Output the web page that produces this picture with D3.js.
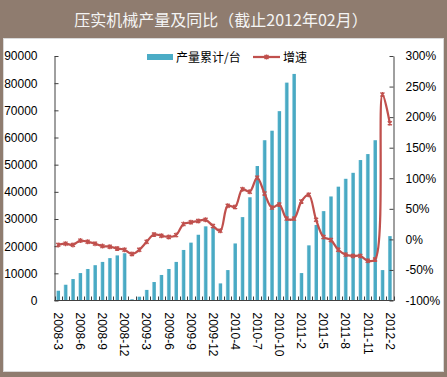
<!DOCTYPE html>
<html><head><meta charset="utf-8">
<script src="https://cdn.jsdelivr.net/npm/d3@7"></script>
<style>
html,body{margin:0;padding:0;background:#fff;}
svg{display:block;}
</style></head>
<body>
<svg id="chart" width="447" height="377"></svg>
<script>
const categories = ["2008-3","2008-4","2008-5","2008-6","2008-7","2008-8","2008-9","2008-10","2008-11","2008-12",
"2009-1","2009-2","2009-3","2009-4","2009-5","2009-6","2009-7","2009-8","2009-9","2009-10","2009-11","2009-12",
"2010-2","2010-3","2010-4","2010-5","2010-6","2010-7","2010-8","2010-9","2010-10","2010-11","2010-12",
"2011-2","2011-3","2011-4","2011-5","2011-6","2011-7","2011-8","2011-9","2011-10","2011-11","2011-12",
"2012-1","2012-2"];
const production = [3600,5800,7900,10100,11600,13000,14200,15600,16600,17400,
450,1400,3900,6800,9400,11600,14200,18600,21300,24200,27300,26800,
6300,11200,21000,30700,38000,49500,59000,62500,69700,80200,83400,
10100,20300,27800,32900,38300,41900,44800,47000,51700,53900,59000,
11200,23700];
const growth = [-9,-7,-9,-2,-4,-7,-11,-12,-15,-17,
-24,-17,-4,8,6,4,7,25,28,30,32,22,
14,55,53,82,78,101,75,52,57,34,34,
62,73,32,4,-1,-17,-25,-27,-27,-35,-33,
237,190];
const labeledCategories = ["2008-3","2008-6","2008-9","2008-12","2009-3","2009-6","2009-9","2009-12","2010-4","2010-7","2010-10","2011-2","2011-5","2011-8","2011-11","2012-2"];
const leftTicks = [0,10000,20000,30000,40000,50000,60000,70000,80000,90000];
const rightTicks = [-100,-50,0,50,100,150,200,250,300];
const titleText = "压实机械产量及同比（截止2012年02月）";
const seriesNames = ["产量累计/台","增速"];

const svg = d3.select("#chart");
const W = 447, H = 377;
const brown = "#8f7c6f";
const barColor = "#4bacc6";
const lineColor = "#c0504d";
const numFont = "'Liberation Sans', Arial, sans-serif";
const cjkFont = "'Noto Sans CJK SC', 'Liberation Sans', sans-serif";

// frame
svg.append("rect").attr("x",0).attr("y",0).attr("width",W).attr("height",H).attr("fill",brown);
svg.append("rect").attr("x",3.5).attr("y",38.5).attr("width",440).attr("height",333)
  .attr("fill","#fff").attr("stroke","#d9d9d9").attr("stroke-width",1);
svg.append("text").attr("x",221).attr("y",26).attr("text-anchor","middle")
  .attr("font-family",cjkFont).attr("font-size",16).attr("fill","#f4f4f4").text(titleText);

const x0 = 54.5, x1 = 393.5, yTop = 56, yBot = 300.5;
const x = d3.scaleBand().domain(categories).range([x0, x1]).paddingInner(0.5).paddingOuter(0.25);
const xb = d3.scaleBand().domain(categories).range([x0, x1]);
const yL = d3.scaleLinear().domain([0,90000]).range([yBot, yTop]);
const yR = d3.scaleLinear().domain([-100,300]).range([yBot, yTop]);

// gradient for bars
const defs = svg.append("defs");
const gr = defs.append("linearGradient").attr("id","barg").attr("x1","0").attr("x2","1").attr("y1","0").attr("y2","0");
gr.append("stop").attr("offset","0").attr("stop-color","#9fd3e3");
gr.append("stop").attr("offset","0.3").attr("stop-color",barColor);
gr.append("stop").attr("offset","1").attr("stop-color","#46a6c0");

// bars
svg.append("g").selectAll("rect").data(categories).join("rect")
  .attr("x", d => x(d))
  .attr("width", x.bandwidth())
  .attr("y", (d,i) => yL(production[i]))
  .attr("height", (d,i) => Math.max(1, yBot - yL(production[i])))
  .attr("fill","url(#barg)");

// left axis
const axL = d3.axisLeft(yL).tickValues(leftTicks).tickSizeInner(-4).tickSizeOuter(0).tickPadding(17).tickFormat(d3.format("d"));
const gL = svg.append("g").attr("transform",`translate(${x0},0)`).call(axL);
gL.select(".domain").attr("stroke","#404040");
gL.selectAll(".tick line").attr("stroke","#404040");
gL.selectAll("text").attr("font-family",numFont).attr("font-size",12).attr("fill","#000");

// right axis
const axR = d3.axisRight(yR).tickValues(rightTicks).tickSizeInner(-4).tickSizeOuter(0).tickPadding(12).tickFormat(d => d + "%");
const gR = svg.append("g").attr("transform",`translate(${x1},0)`).call(axR);
gR.select(".domain").attr("stroke","#404040");
gR.selectAll(".tick line").attr("stroke","#404040");
gR.selectAll("text").attr("font-family",numFont).attr("font-size",12).attr("fill","#000");

// bottom axis
svg.append("line").attr("x1",x0).attr("x2",x1).attr("y1",yBot).attr("y2",yBot).attr("stroke","#404040");
const bounds = categories.map(c => xb(c)).concat([x1]);
svg.append("g").selectAll("line").data(bounds).join("line")
  .attr("x1", d => Math.round(d)+0.5).attr("x2", d => Math.round(d)+0.5)
  .attr("y1", yBot).attr("y2", yBot-4).attr("stroke","#404040");
svg.append("g").selectAll("text").data(labeledCategories).join("text")
  .attr("transform", d => `translate(${xb(d)+xb.bandwidth()/2},${yBot+12}) rotate(90)`)
  .attr("dy","0.35em")
  .attr("font-family",numFont).attr("font-size",12).attr("fill","#000")
  .text(d => d);

// line
const pts = categories.map((c,i) => [xb(c)+xb.bandwidth()/2, yR(growth[i])]);
svg.append("path").attr("d", d3.line().curve(d3.curveCatmullRom.alpha(0.5))(pts))
  .attr("fill","none").attr("stroke",lineColor).attr("stroke-width",2.25);
const mk = "M-2,-2L2,2M-2,2L2,-2M0,-2.5L0,2.5";
svg.append("g").selectAll("path").data(pts).join("path")
  .attr("transform", d => `translate(${d[0]},${d[1]})`)
  .attr("d", mk).attr("stroke",lineColor).attr("stroke-width",1.3).attr("fill","none");

// legend
svg.append("rect").attr("x",147).attr("y",54).attr("width",26).attr("height",6).attr("fill",barColor);
svg.append("text").attr("x",176).attr("y",61.5).attr("font-family",cjkFont).attr("font-size",12).attr("fill","#000").text(seriesNames[0]);
svg.append("line").attr("x1",253).attr("x2",280).attr("y1",57).attr("y2",57).attr("stroke",lineColor).attr("stroke-width",2.25);
svg.append("path").attr("transform","translate(266.5,57)").attr("d",mk).attr("stroke",lineColor).attr("stroke-width",1.3);
svg.append("text").attr("x",283).attr("y",61.5).attr("font-family",cjkFont).attr("font-size",12).attr("fill","#000").text(seriesNames[1]);
</script>
</body></html>
